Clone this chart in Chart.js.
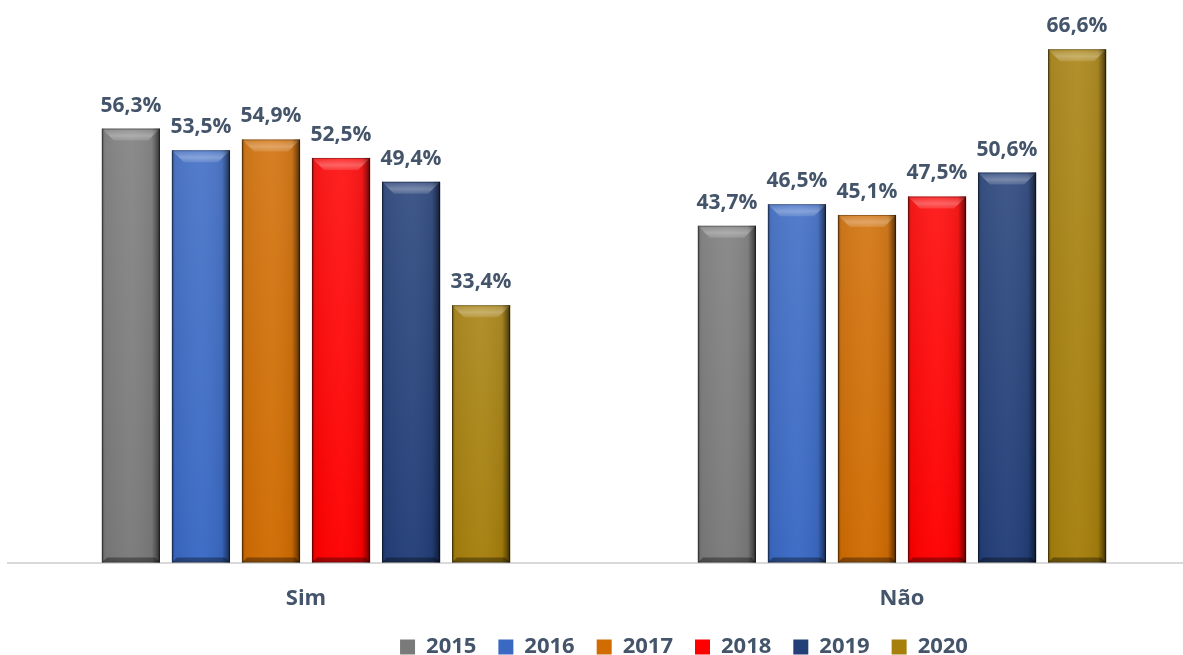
<!DOCTYPE html>
<html>
<head>
<meta charset="utf-8">
<script src="https://cdn.jsdelivr.net/npm/chart.js@4.4.1/dist/chart.umd.min.js"></script>
<style>
  html, body { margin: 0; padding: 0; background: #ffffff; overflow: hidden; width: 1183px; height: 655px; }
  #wrap { position: absolute; left: 0; top: 0; width: 1200px; height: 668px; }
</style>
</head>
<body>
<div id="wrap"><canvas id="c"></canvas></div>
<script>
const categories = ['Sim', 'Não'];
const years = ['2015', '2016', '2017', '2018', '2019', '2020'];
const v2015 = [56.3, 43.7];
const v2016 = [53.5, 46.5];
const v2017 = [54.9, 45.1];
const v2018 = [52.5, 47.5];
const v2019 = [49.4, 50.6];
const v2020 = [33.4, 66.6];
const seriesValues = [v2015, v2016, v2017, v2018, v2019, v2020];
const colors = ['#7a7a7a', '#3a69c4', '#d06c02', '#ff0000', '#233f78', '#a67f0c'];
const textColor = '#44546a';

const bevelPlugin = {
  id: 'bevel',
  afterDatasetsDraw(chart) {
    const ctx = chart.ctx;
    chart.data.datasets.forEach((ds, di) => {
      const meta = chart.getDatasetMeta(di);
      meta.data.forEach((bar) => {
        const w = bar.width;
        const l = bar.x - w / 2, r = bar.x + w / 2;
        const t = bar.y, b = bar.base;
        const bv = 12;
        ctx.save();
        const gv = ctx.createLinearGradient(0, t, 0, b);
        gv.addColorStop(0, 'rgba(255,255,255,0.1)');
        gv.addColorStop(1, 'rgba(255,255,255,0)');
        ctx.fillStyle = gv;
        ctx.fillRect(l, t, w, b - t);
        const g = ctx.createLinearGradient(l, 0, r, 0);
        g.addColorStop(0, 'rgba(0,0,0,0.45)');
        g.addColorStop(0.05, 'rgba(0,0,0,0.05)');
        g.addColorStop(0.5, 'rgba(255,255,255,0.03)');
        g.addColorStop(0.86, 'rgba(0,0,0,0.06)');
        g.addColorStop(0.95, 'rgba(0,0,0,0.4)');
        g.addColorStop(1, 'rgba(0,0,0,0.7)');
        ctx.fillStyle = g;
        ctx.fillRect(l, t, w, b - t);
        ctx.beginPath();
        ctx.moveTo(l, t); ctx.lineTo(r, t); ctx.lineTo(r - bv, t + bv); ctx.lineTo(l + bv, t + bv); ctx.closePath();
        const gt = ctx.createLinearGradient(0, t, 0, t + bv);
        gt.addColorStop(0, 'rgba(255,255,255,0.05)');
        gt.addColorStop(0.6, 'rgba(255,255,255,0.3)');
        gt.addColorStop(1, 'rgba(255,255,255,0.12)');
        ctx.fillStyle = gt;
        ctx.fill();
        ctx.beginPath();
        ctx.moveTo(l, b); ctx.lineTo(r, b); ctx.lineTo(r - 5, b - 5); ctx.lineTo(l + 5, b - 5); ctx.closePath();
        ctx.fillStyle = 'rgba(0,0,0,0.35)';
        ctx.fill();
        ctx.strokeStyle = 'rgba(0,0,0,0.3)';
        ctx.lineWidth = 1;
        ctx.strokeRect(l + 0.5, t + 0.5, w - 1, b - t - 1);
        ctx.restore();
      });
    });
  }
};

const labelPlugin = {
  id: 'valueLabels',
  afterDatasetsDraw(chart) {
    const ctx = chart.ctx;
    ctx.save();
    ctx.font = 'bold 21px "Open Sans", sans-serif';
    ctx.fillStyle = textColor;
    ctx.textAlign = 'center';
    ctx.textBaseline = 'alphabetic';
    chart.data.datasets.forEach((ds, di) => {
      const meta = chart.getDatasetMeta(di);
      meta.data.forEach((bar, i) => {
        const txt = ds.data[i].toFixed(1).replace('.', ',') + '%';
        ctx.fillText(txt, bar.x, bar.y - 17);
      });
    });
    ctx.restore();
  }
};

const legendShift = {
  id: 'legendShift',
  afterLayout(chart) {
    if (chart.legend) { chart.legend.left += 80; chart.legend.right += 80; }
  }
};

const datasets = years.map((y, i) => ({
  label: y,
  data: seriesValues[i],
  backgroundColor: colors[i],
  borderWidth: 0,
  categoryPercentage: 0.705,
  barPercentage: 0.83
}));

new Chart(document.getElementById('c'), {
  type: 'bar',
  data: { labels: categories, datasets },
  options: {
    responsive: true,
    maintainAspectRatio: false,
    animation: false,
    events: [],
    layout: { padding: { left: 8, right: 0, top: 23, bottom: 0 } },
    scales: {
      x: {
        grid: { display: false },
        border: { display: true, color: '#d9d9d9', width: 2 },
        ticks: { color: textColor, font: { family: '"Open Sans", sans-serif', size: 22, weight: 'bold' }, padding: 15 },
        afterFit(scale) { scale.height -= 13; }
      },
      y: {
        display: false,
        min: 0,
        max: 70
      }
    },
    plugins: {
      legend: {
        position: 'bottom',
        labels: {
          color: textColor,
          font: { family: '"Open Sans", sans-serif', size: 22, weight: 'bold' },
          boxWidth: 15,
          boxHeight: 15,
          padding: 22
        }
      },
      tooltip: { enabled: false }
    }
  },
  plugins: [bevelPlugin, labelPlugin, legendShift]
});
</script>
</body>
</html>
